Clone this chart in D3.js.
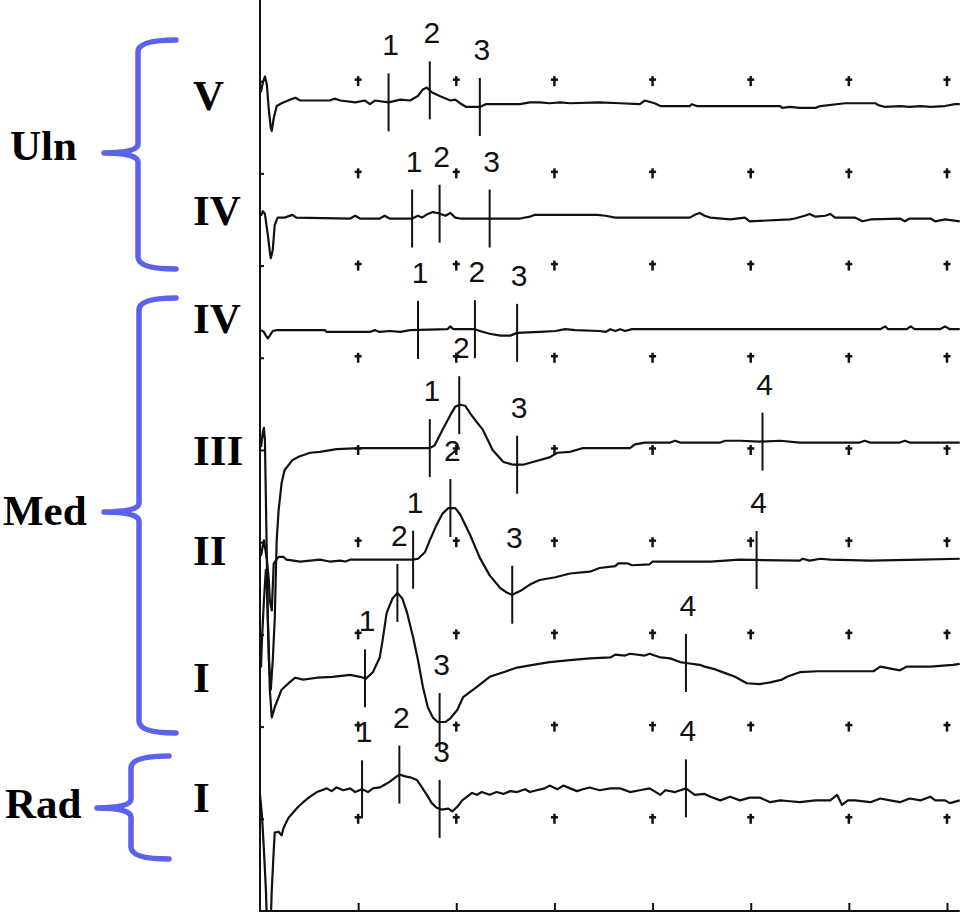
<!DOCTYPE html>
<html><head><meta charset="utf-8">
<script src="https://cdn.jsdelivr.net/npm/d3@7"></script>
<style>html,body{margin:0;padding:0;background:#fff;}svg{display:block;}</style>
</head><body>
<svg id="chart" width="960" height="912"></svg>
<script>
// ---- DATA (time in ms, amplitude in screen divisions) ----
const xTickValues = [1, 2, 3, 4, 5, 6, 7];
const yRowValues = [1, 2, 3, 4, 5, 6, 7, 8, 9];

const traceUlnV = [[0.01,8.88],[0.03,8.99],[0.05,9.05],[0.07,8.96],[0.09,8.69],[0.11,8.49],[0.12,8.46],[0.14,8.60],[0.17,8.73],[0.22,8.76],[0.31,8.80],[0.36,8.82],[0.41,8.79],[0.71,8.79],[0.76,8.81],[0.82,8.79],[0.97,8.77],[1.07,8.79],[1.12,8.75],[1.17,8.79],[1.31,8.77],[1.43,8.80],[1.53,8.79],[1.61,8.84],[1.66,8.91],[1.70,8.93],[1.75,8.88],[1.83,8.84],[1.94,8.79],[1.99,8.80],[2.04,8.76],[2.10,8.72],[2.24,8.72],[2.30,8.75],[2.65,8.75],[2.75,8.77],[2.85,8.77],[2.95,8.76],[3.06,8.77],[3.16,8.76],[3.46,8.77],[3.67,8.76],[3.87,8.75],[3.92,8.79],[4.02,8.76],[4.08,8.73],[4.38,8.73],[4.40,8.75],[4.45,8.73],[4.84,8.73],[5.30,8.73],[5.32,8.71],[5.40,8.72],[5.50,8.71],[5.66,8.71],[5.71,8.73],[5.96,8.76],[6.27,8.76],[6.30,8.74],[6.37,8.72],[6.52,8.73],[6.62,8.72],[6.73,8.73],[6.83,8.72],[6.98,8.73],[7.08,8.75],[7.13,8.75]];

const traceUlnIV = [[0.01,7.54],[0.03,7.59],[0.05,7.56],[0.08,7.33],[0.10,7.15],[0.11,7.08],[0.13,7.17],[0.15,7.44],[0.18,7.52],[0.25,7.52],[0.33,7.55],[0.37,7.52],[0.92,7.51],[0.97,7.54],[1.02,7.51],[1.22,7.51],[1.27,7.54],[1.32,7.51],[1.55,7.51],[1.61,7.54],[1.65,7.52],[1.71,7.56],[1.76,7.58],[1.81,7.57],[1.89,7.54],[1.94,7.57],[1.99,7.52],[2.04,7.51],[2.65,7.51],[2.75,7.53],[2.80,7.55],[3.44,7.55],[3.52,7.54],[3.62,7.52],[4.38,7.52],[4.43,7.55],[4.48,7.57],[4.53,7.54],[4.59,7.52],[4.79,7.50],[4.94,7.52],[4.99,7.48],[5.40,7.50],[5.45,7.51],[5.55,7.54],[5.60,7.56],[5.66,7.53],[5.76,7.54],[5.81,7.56],[5.86,7.52],[6.06,7.52],[6.14,7.48],[6.22,7.50],[6.52,7.51],[6.57,7.48],[6.62,7.51],[6.83,7.51],[6.88,7.48],[6.98,7.50],[7.13,7.48]];

const traceMedIV = [[0.01,6.30],[0.04,6.28],[0.06,6.24],[0.08,6.21],[0.10,6.24],[0.13,6.29],[0.17,6.30],[0.66,6.30],[0.68,6.28],[1.12,6.28],[1.17,6.30],[1.22,6.28],[1.32,6.29],[1.43,6.28],[1.53,6.30],[1.91,6.31],[1.94,6.34],[1.97,6.31],[2.19,6.31],[2.24,6.29],[2.34,6.26],[2.45,6.24],[2.55,6.24],[2.62,6.27],[2.85,6.28],[3.01,6.29],[3.11,6.31],[3.21,6.30],[3.46,6.29],[3.52,6.28],[3.57,6.31],[3.62,6.29],[3.67,6.31],[3.72,6.29],[3.79,6.31],[6.32,6.31],[6.37,6.34],[6.40,6.31],[6.59,6.31],[6.63,6.34],[6.67,6.31],[6.93,6.31],[6.98,6.34],[7.03,6.31],[7.13,6.31]];

const traceMedIII = [[0.01,5.03],[0.03,5.20],[0.04,5.24],[0.05,5.11],[0.06,4.46],[0.07,3.81],[0.08,3.16],[0.09,2.72],[0.11,2.40],[0.13,2.72],[0.15,3.16],[0.17,4.02],[0.19,4.35],[0.22,4.64],[0.25,4.78],[0.33,4.89],[0.40,4.93],[0.51,4.97],[0.61,4.98],[0.78,5.01],[1.02,5.02],[1.73,5.02],[1.78,5.05],[1.86,5.22],[1.94,5.38],[1.99,5.47],[2.04,5.49],[2.09,5.48],[2.14,5.40],[2.21,5.30],[2.27,5.22],[2.32,5.11],[2.37,5.00],[2.48,4.87],[2.58,4.84],[2.68,4.84],[2.78,4.87],[2.95,4.92],[3.03,4.97],[3.16,4.98],[3.29,5.02],[3.57,5.02],[3.77,5.02],[3.82,5.06],[3.92,5.08],[4.18,5.08],[4.23,5.10],[4.28,5.08],[4.69,5.08],[4.74,5.10],[4.89,5.10],[5.09,5.09],[5.30,5.10],[5.50,5.08],[6.11,5.08],[6.16,5.10],[6.22,5.08],[6.52,5.08],[6.57,5.10],[6.62,5.08],[7.13,5.08]];

const traceMedII = [[0.01,3.85],[0.03,3.97],[0.04,4.02],[0.05,3.95],[0.07,3.81],[0.09,3.59],[0.10,3.37],[0.12,3.26],[0.14,3.77],[0.19,3.84],[0.24,3.84],[0.27,3.81],[0.41,3.79],[0.51,3.80],[0.61,3.81],[0.71,3.79],[0.82,3.80],[0.87,3.79],[0.92,3.81],[1.56,3.81],[1.61,3.82],[1.68,3.89],[1.73,4.02],[1.80,4.19],[1.86,4.31],[1.92,4.37],[1.99,4.37],[2.04,4.30],[2.14,4.08],[2.24,3.83],[2.34,3.64],[2.45,3.50],[2.52,3.45],[2.57,3.43],[2.65,3.47],[2.75,3.54],[2.85,3.59],[3.01,3.62],[3.16,3.66],[3.36,3.68],[3.46,3.72],[3.62,3.74],[3.65,3.77],[3.75,3.77],[3.79,3.75],[3.97,3.76],[4.00,3.79],[4.59,3.79],[4.89,3.81],[5.50,3.80],[5.53,3.82],[5.60,3.80],[5.71,3.82],[5.81,3.81],[6.22,3.80],[6.73,3.81],[7.13,3.82]];

const traceMedI = [[0.01,2.64],[0.02,2.94],[0.04,3.37],[0.06,3.70],[0.07,3.54],[0.08,3.16],[0.09,2.83],[0.10,2.40],[0.12,2.10],[0.15,2.21],[0.22,2.40],[0.30,2.48],[0.36,2.53],[0.44,2.51],[0.58,2.53],[0.74,2.54],[0.92,2.56],[1.02,2.54],[1.08,2.52],[1.15,2.59],[1.22,2.75],[1.25,2.94],[1.29,3.23],[1.35,3.39],[1.40,3.45],[1.45,3.39],[1.50,3.23],[1.56,2.97],[1.61,2.72],[1.66,2.43],[1.71,2.21],[1.76,2.10],[1.81,2.05],[1.89,2.05],[1.94,2.09],[2.01,2.18],[2.07,2.32],[2.21,2.43],[2.34,2.54],[2.48,2.59],[2.62,2.64],[2.78,2.67],[2.95,2.70],[3.16,2.72],[3.36,2.74],[3.57,2.75],[3.62,2.78],[3.72,2.77],[3.77,2.79],[3.92,2.77],[3.97,2.79],[4.08,2.75],[4.18,2.74],[4.28,2.70],[4.34,2.69],[4.48,2.67],[4.53,2.65],[4.64,2.62],[4.74,2.58],[4.84,2.54],[4.96,2.47],[5.09,2.46],[5.20,2.48],[5.32,2.51],[5.37,2.54],[5.50,2.59],[5.68,2.60],[6.25,2.60],[6.32,2.65],[6.52,2.61],[6.59,2.65],[6.83,2.65],[7.06,2.67],[7.13,2.68]];

const traceRadI = [[0.00,1.26],[0.02,1.04],[0.04,0.66],[0.06,0.23],[0.07,-0.10],[0.11,-0.10],[0.12,0.23],[0.14,0.66],[0.15,0.85],[0.19,0.86],[0.22,0.82],[0.24,0.90],[0.29,1.01],[0.34,1.07],[0.38,1.12],[0.44,1.18],[0.51,1.24],[0.58,1.29],[0.63,1.31],[0.68,1.33],[0.73,1.30],[0.78,1.34],[0.85,1.31],[0.92,1.33],[0.97,1.29],[1.04,1.32],[1.10,1.29],[1.15,1.33],[1.22,1.34],[1.27,1.37],[1.32,1.40],[1.38,1.45],[1.42,1.48],[1.48,1.46],[1.53,1.45],[1.60,1.42],[1.65,1.34],[1.70,1.26],[1.75,1.17],[1.80,1.12],[1.85,1.10],[1.92,1.11],[1.96,1.08],[2.01,1.13],[2.06,1.20],[2.11,1.24],[2.16,1.28],[2.21,1.26],[2.26,1.29],[2.34,1.26],[2.41,1.29],[2.48,1.27],[2.55,1.30],[2.62,1.29],[2.70,1.32],[2.75,1.29],[2.82,1.31],[2.90,1.33],[2.95,1.36],[3.03,1.32],[3.09,1.36],[3.16,1.33],[3.23,1.30],[3.29,1.32],[3.36,1.34],[3.46,1.31],[3.57,1.33],[3.67,1.33],[3.77,1.29],[3.87,1.31],[3.97,1.33],[4.08,1.26],[4.13,1.31],[4.23,1.29],[4.34,1.33],[4.43,1.26],[4.53,1.27],[4.59,1.24],[4.69,1.20],[4.79,1.24],[4.89,1.20],[4.99,1.23],[5.09,1.23],[5.20,1.18],[5.30,1.20],[5.40,1.19],[5.50,1.18],[5.66,1.20],[5.81,1.20],[5.88,1.26],[5.93,1.15],[5.99,1.20],[6.06,1.20],[6.22,1.18],[6.32,1.22],[6.42,1.20],[6.52,1.18],[6.62,1.22],[6.73,1.20],[6.83,1.24],[6.88,1.20],[6.98,1.20],[7.03,1.17],[7.13,1.20]];

const markerTimesUlnV = [1.31, 1.73, 2.24];
const markerTimesUlnIV = [1.55, 1.83, 2.34];
const markerTimesMedIV = [1.61, 2.19, 2.62];
const markerTimesMedIII = [1.73, 2.03, 2.62, 5.12];
const markerTimesMedII = [1.56, 1.94, 2.57, 5.06];
const markerTimesMedI = [1.07, 1.40, 1.83, 4.34];
const markerTimesRadI = [1.04, 1.42, 1.83, 4.34];
const markerLabels = ["1", "2", "3", "4"];

const digitLabels = ["V", "IV", "IV", "III", "II", "I", "I"];
const groupLabels = ["Uln", "Med", "Rad"];

// ---- LAYOUT ----
const svg = d3.select("#chart");
const x = d3.scaleLinear().domain([0, 7]).range([260, 947]);
const y = d3.scaleLinear().domain([0, 9.88]).range([911, 0]);
const ink = "#111";
const braceColor = "#5c61ee";

// axes
const gx = svg.append("g").attr("transform", `translate(0,${y(0)})`)
  .call(d3.axisBottom(x).tickValues(xTickValues).tickSize(-8).tickSizeOuter(0).tickFormat(""));
gx.select(".domain").remove();
gx.selectAll("line").attr("stroke", ink).attr("stroke-width", 2);
const gy = svg.append("g").attr("transform", `translate(${x(0)},0)`)
  .call(d3.axisLeft(y).tickValues(yRowValues).tickSize(-4).tickSizeOuter(0).tickFormat(""));
gy.select(".domain").remove();
gy.selectAll("line").attr("stroke", ink).attr("stroke-width", 2);
svg.append("line").attr("x1", x(0)).attr("x2", x(0)).attr("y1", y(9.88)).attr("y2", y(0) + 1)
  .attr("stroke", ink).attr("stroke-width", 2);
svg.append("line").attr("x1", x(0) - 1).attr("x2", x(7.13)).attr("y1", y(0)).attr("y2", y(0))
  .attr("stroke", ink).attr("stroke-width", 2);

// plus grid marks
const grid = [];
xTickValues.forEach(t => yRowValues.forEach(r => grid.push([t, r])));
const plus = svg.append("g").selectAll("g").data(grid).join("g")
  .attr("transform", d => `translate(${x(d[0])},${y(d[1])})`);
plus.append("line").attr("x1", 0).attr("x2", 0).attr("y1", -5).attr("y2", 5).attr("stroke", ink).attr("stroke-width", 2.5);
plus.append("line").attr("x1", -3.5).attr("x2", 3.5).attr("y1", -1.5).attr("y2", -1.5).attr("stroke", ink).attr("stroke-width", 2.5);

// traces
const traces = [
  {data: traceUlnV, marks: markerTimesUlnV},
  {data: traceUlnIV, marks: markerTimesUlnIV},
  {data: traceMedIV, marks: markerTimesMedIV},
  {data: traceMedIII, marks: markerTimesMedIII},
  {data: traceMedII, marks: markerTimesMedII},
  {data: traceMedI, marks: markerTimesMedI},
  {data: traceRadI, marks: markerTimesRadI}
];
const line = d3.line().x(d => x(d[0])).y(d => y(d[1]));
svg.append("defs").append("clipPath").attr("id", "plot")
  .append("rect").attr("x", x(0)).attr("y", 0).attr("width", 960 - x(0)).attr("height", y(0));

function valueAt(data, t) {
  const i = d3.bisector(d => d[0]).left(data, t);
  if (i <= 0) return data[0][1];
  if (i >= data.length) return data[data.length - 1][1];
  const a = data[i - 1], b = data[i];
  return a[1] + (b[1] - a[1]) * (t - a[0]) / (b[0] - a[0]);
}

const tg = svg.append("g").attr("clip-path", "url(#plot)");
traces.forEach(tr => {
  tg.append("path").datum(tr.data).attr("d", line)
    .attr("fill", "none").attr("stroke", ink).attr("stroke-width", 2.2).attr("stroke-linejoin", "round");
});

const halfLen = 29;
traces.forEach(tr => {
  tr.marks.forEach((t, i) => {
    const cy = y(valueAt(tr.data, t));
    svg.append("line").attr("x1", x(t)).attr("x2", x(t)).attr("y1", cy - halfLen).attr("y2", cy + halfLen)
      .attr("stroke", ink).attr("stroke-width", 2);
    svg.append("text").attr("x", x(t) + 2).attr("y", cy - halfLen - 18)
      .attr("text-anchor", "middle").attr("font-family", "Liberation Sans, Arial, sans-serif")
      .attr("font-size", 30).attr("fill", ink).text(markerLabels[i]);
  });
});

// roman labels
const romanBase = [110, 225, 333, 465, 565, 692, 812];
svg.append("g").selectAll("text").data(digitLabels).join("text")
  .attr("x", 193).attr("y", (d, i) => romanBase[i])
  .attr("font-family", "Liberation Serif, Times New Roman, serif").attr("font-weight", "bold")
  .attr("font-size", 43).attr("fill", "#000").text(d => d);

// group labels
const groupPos = [[10, 160], [3, 525], [5, 818]];
svg.append("g").selectAll("text").data(groupLabels).join("text")
  .attr("x", (d, i) => groupPos[i][0]).attr("y", (d, i) => groupPos[i][1])
  .attr("font-family", "Liberation Serif, Times New Roman, serif").attr("font-weight", "bold")
  .attr("font-size", 43).attr("fill", "#000").text(d => d);

// braces
function brace(xv, y0, y1, ym, tip, end) {
  const r = 12;
  return `M${end},${y0} Q${xv},${y0} ${xv},${y0 + r} L${xv},${ym - 9} Q${xv},${ym} ${tip},${ym}` +
         ` Q${xv},${ym} ${xv},${ym + 9} L${xv},${y1 - r} Q${xv},${y1} ${end},${y1}`;
}
const braces = [[138, 40, 269, 153, 104, 176], [139, 298, 733, 512, 104, 176], [131, 756, 859, 808, 97, 169]];
svg.append("g").selectAll("path").data(braces).join("path")
  .attr("d", d => brace(...d)).attr("fill", "none").attr("stroke", braceColor)
  .attr("stroke-width", 5.5).attr("stroke-linecap", "round").attr("stroke-linejoin", "round");
</script>
</body></html>
